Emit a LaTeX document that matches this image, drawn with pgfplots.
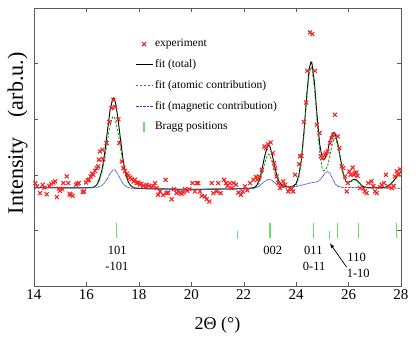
\documentclass[border=0pt]{standalone}
\usepackage{fontspec}
\setmainfont{Liberation Serif}
\usepackage{pgfplots}
\pgfplotsset{compat=1.18}
\definecolor{expred}{RGB}{245,35,35}
\definecolor{atomgreen}{RGB}{20,150,20}
\definecolor{magblue}{RGB}{60,60,225}
\definecolor{bragggreen}{RGB}{100,225,100}
\definecolor{framegray}{RGB}{90,90,90}

\begin{document}
\begin{tikzpicture}
\begin{axis}[
  scale only axis, width=367pt, height=278pt,
  xmin=14, xmax=28, ymin=0, ymax=5,
  xtick={14,16,...,28}, ytick={0,1,...,5}, yticklabels={},
  axis line style={framegray}, tick style={framegray},
  tick align=inside,
  /pgf/number format/assume math mode=true,
  ticklabel style={font=\fontsize{15}{18}\selectfont},
  xlabel={2Θ (°)},
  xlabel style={at={(axis description cs:0.5,-0.158)}, anchor=base, font=\fontsize{18}{22}\selectfont},
  ylabel={Intensity\hspace{0.9em}(arb.u.)},
  ylabel style={at={(axis description cs:-0.030,0.549)}, anchor=base, font=\fontsize{22}{26}\selectfont},
  clip=false,
  legend cell align=left,
  legend style={at={(0.275,0.8966)}, anchor=north west, draw=none, fill=none,
    inner sep=0pt, row sep=6.2pt,
    font=\fontsize{11.5}{13}\selectfont,
    nodes={inner sep=2pt, text height=8pt, text depth=2.5pt}},
]
% experiment
\addplot[only marks, mark=x, mark size=2.8pt, expred, line width=1.1pt] coordinates {
(14.05,1.85) (14.12,1.79) (14.23,1.67) (14.33,1.82) (14.40,1.77) (14.48,1.65)
(14.58,1.80) (14.66,1.83) (14.74,1.86) (14.81,1.88) (14.87,1.60) (14.95,1.75)
(14.99,1.71) (15.08,1.74) (15.12,1.85) (15.25,1.97) (15.31,1.85) (15.36,1.66)
(15.40,1.64) (15.48,1.62) (15.60,1.82) (15.66,1.84) (15.71,1.85) (15.86,1.69)
(15.91,1.70) (15.98,1.86) (16.05,1.90) (16.09,1.91) (16.16,1.97) (16.22,2.02)
(16.26,2.00) (16.33,2.07) (16.39,2.12) (16.45,2.15) (16.48,2.27) (16.52,2.42)
(16.61,2.45) (16.64,2.28) (16.77,2.57) (16.87,2.95) (16.96,3.20) (17.03,3.35)
(17.10,3.22) (17.22,3.00) (17.26,2.57) (17.35,2.24) (17.41,2.12) (17.47,2.07)
(17.55,2.02) (17.60,1.98) (17.67,1.95) (17.73,1.92) (17.80,1.88) (17.85,1.91)
(17.92,1.85) (17.98,1.86) (18.04,1.82) (18.10,1.84) (18.17,1.80) (18.25,1.78)
(18.30,1.82) (18.38,1.80) (18.49,1.78) (18.55,1.80) (18.62,1.85) (18.68,1.76)
(18.74,1.64) (18.81,1.70) (18.93,1.64) (19.02,1.91) (19.06,1.67) (19.12,1.68)
(19.25,1.56) (19.34,1.74) (19.44,1.67) (19.50,1.70) (19.57,1.68) (19.63,1.66)
(19.70,1.68) (19.76,1.74) (19.85,1.71) (19.93,1.74) (20.05,1.85) (20.14,1.70)
(20.21,1.85) (20.27,1.85) (20.33,1.70) (20.40,1.62) (20.52,1.61) (20.59,1.56)
(20.69,1.52) (20.78,1.85) (20.84,1.67) (20.97,1.70) (21.03,1.85) (21.12,1.67)
(21.25,1.91) (21.33,1.85) (21.38,1.80) (21.48,1.85) (21.54,1.76) (21.61,1.85)
(21.71,1.82) (21.80,1.68) (21.89,1.64) (21.96,1.70) (22.05,1.79) (22.14,1.72)
(22.24,1.85) (22.37,1.91) (22.47,1.96) (22.52,1.91) (22.60,1.97) (22.69,2.09)
(22.79,2.51) (22.85,2.48) (22.93,2.55) (23.03,2.58) (23.11,2.39) (23.16,2.21)
(23.20,2.12) (23.26,1.97) (23.32,1.85) (23.39,1.76) (23.45,1.80) (23.51,1.88)
(23.58,1.82) (23.70,1.70) (23.77,1.76) (23.83,1.74) (23.89,1.70) (23.96,2.00)
(24.12,2.19) (24.15,2.33) (24.21,2.34) (24.30,2.95) (24.38,3.30) (24.43,3.87)
(24.53,4.56) (24.62,4.53) (24.72,3.87) (24.79,2.90) (24.89,2.75) (24.94,2.33)
(25.01,2.30) (25.10,2.36) (25.14,2.39) (25.20,2.42) (25.29,2.57) (25.36,2.66)
(25.42,2.72) (25.48,3.08) (25.59,2.69) (25.65,2.48) (25.74,2.15) (25.80,2.12)
(25.87,1.97) (25.93,1.70) (25.97,1.85) (26.03,2.06) (26.08,2.00) (26.16,2.13)
(26.20,2.00) (26.25,2.03) (26.30,2.04) (26.34,1.98) (26.44,1.76) (26.56,1.76)
(26.62,1.70) (26.69,1.67) (26.75,1.85) (26.88,1.88) (26.95,1.80) (27.01,1.70)
(27.08,1.67) (27.20,1.78) (27.27,1.82) (27.35,1.85) (27.43,2.00) (27.52,1.79)
(27.65,1.76) (27.72,1.80) (27.77,1.97) (27.84,2.06) (27.90,2.00) (27.97,2.10)
};
\addlegendentry{experiment}
% total fit
\addplot[black, line width=0.9pt] coordinates {
(14,1.77) (15,1.765) (16,1.765) (16.2,1.77) (16.3,1.785) (16.4,1.82) (16.5,1.93)
(16.6,2.10) (16.7,2.40) (16.8,2.78) (16.9,3.15) (17.0,3.36) (17.03,3.38) (17.1,3.32)
(17.2,3.03) (17.3,2.64) (17.4,2.27) (17.5,2.01) (17.6,1.87) (17.7,1.80) (17.8,1.77)
(17.9,1.755) (18.5,1.75) (19.5,1.74) (20.5,1.74) (21.5,1.745) (22.2,1.755) (22.4,1.77)
(22.5,1.81) (22.6,1.91) (22.7,2.10) (22.8,2.33) (22.9,2.50) (22.95,2.53) (23.0,2.51)
(23.1,2.34) (23.2,2.11) (23.3,1.93) (23.4,1.84) (23.5,1.80) (23.6,1.785) (23.7,1.78)
(23.8,1.785) (23.9,1.80) (24.0,1.84) (24.1,1.98) (24.2,2.27) (24.3,2.77) (24.4,3.40)
(24.5,3.91) (24.57,4.03) (24.6,4.02) (24.7,3.66) (24.8,3.07) (24.9,2.55) (25.0,2.29)
(25.05,2.27) (25.1,2.29) (25.2,2.42) (25.3,2.63) (25.4,2.75) (25.45,2.76) (25.5,2.73)
(25.6,2.54) (25.7,2.27) (25.8,2.02) (25.9,1.88) (26.0,1.86) (26.1,1.89) (26.2,1.92)
(26.3,1.91) (26.4,1.86) (26.5,1.81) (26.6,1.78) (26.8,1.77) (27.0,1.77) (27.4,1.775)
(27.5,1.80) (27.6,1.83) (27.7,1.88) (27.8,1.94) (27.9,2.00) (28.0,2.06)
};
\addlegendentry{fit (total)}
% atomic contribution
\addplot[atomgreen, line width=0.8pt, dash pattern=on 2.5pt off 1.5pt] coordinates {
(14,1.77) (16,1.765) (16.2,1.77) (16.3,1.78) (16.4,1.81) (16.5,1.90) (16.6,2.05)
(16.7,2.30) (16.8,2.61) (16.9,2.89) (17.0,3.04) (17.03,3.05) (17.1,3.00) (17.2,2.78)
(17.3,2.48) (17.4,2.19) (17.5,1.98) (17.6,1.86) (17.7,1.80) (17.8,1.77) (17.9,1.76)
(18.5,1.75) (19.5,1.74) (20.5,1.74) (21.5,1.745) (22.2,1.75) (22.4,1.76) (22.5,1.79)
(22.6,1.86) (22.7,2.01) (22.8,2.20) (22.9,2.34) (22.95,2.37) (23.0,2.35) (23.1,2.21)
(23.2,2.02) (23.3,1.87) (23.4,1.80) (23.5,1.77) (23.6,1.76) (23.7,1.76) (23.8,1.763)
(23.9,1.773) (24.0,1.81) (24.1,1.94) (24.2,2.22) (24.3,2.71) (24.4,3.33) (24.5,3.82)
(24.57,3.94) (24.6,3.92) (24.7,3.56) (24.8,2.96) (24.9,2.41) (25.0,2.10) (25.05,2.07)
(25.1,2.08) (25.2,2.15) (25.3,2.37) (25.4,2.59) (25.48,2.66) (25.5,2.66) (25.6,2.51)
(25.7,2.25) (25.8,2.01) (25.9,1.87) (26.0,1.85) (26.1,1.88) (26.2,1.91) (26.3,1.90)
(26.4,1.85) (26.5,1.80) (26.6,1.77) (26.8,1.76) (27.0,1.76) (27.4,1.765) (27.5,1.79)
(27.6,1.82) (27.7,1.87) (27.8,1.93) (27.9,1.99) (28.0,2.05)
};
\addlegendentry{fit (atomic contribution)}
% magnetic contribution
\addplot[magblue, line width=0.8pt, dash pattern=on 0.8pt off 0.6pt] coordinates {
(14,1.77) (16.0,1.765) (16.3,1.765) (16.4,1.77) (16.5,1.79) (16.6,1.81) (16.7,1.86)
(16.8,1.93) (16.9,2.02) (17.0,2.08) (17.05,2.09) (17.1,2.08) (17.2,2.01) (17.3,1.92)
(17.4,1.84) (17.5,1.79) (17.6,1.77) (17.7,1.76) (17.9,1.75) (18.5,1.745) (19.5,1.74)
(20.5,1.74) (21.5,1.745) (22.2,1.755) (22.4,1.76) (22.5,1.77) (22.6,1.80) (22.7,1.84)
(22.8,1.88) (22.9,1.91) (23.0,1.92) (23.1,1.89) (23.2,1.85) (23.3,1.82) (23.4,1.80)
(23.5,1.79) (23.6,1.785) (23.8,1.78) (24.0,1.79) (24.2,1.81) (24.4,1.835) (24.6,1.86)
(24.8,1.87) (24.9,1.90) (25.0,1.96) (25.1,2.03) (25.2,2.06) (25.3,2.02) (25.4,1.92)
(25.5,1.83) (25.6,1.79) (25.7,1.78) (25.8,1.77) (26.5,1.77) (27,1.765) (28,1.755)
};
\addlegendentry{fit (magnetic contribution)}
% Bragg positions
\addplot[only marks, mark=|, mark size=7.8pt, bragggreen, line width=1.3pt,
  legend image code/.code={\draw[bragggreen, line width=1.3pt] (0.3cm,-5pt) -- (0.3cm,5pt);}]
  coordinates {(17.14,1) (23.01,1) (24.66,1) (25.59,1) (26.37,1) (27.83,1)};
\addlegendentry{Bragg positions}
\addplot[only marks, mark=|, mark size=3.9pt, bragggreen, line width=1.3pt, forget plot]
  coordinates {(21.77,0.92) (25.27,0.92)};

\node[font=\fontsize{12.5}{15}\selectfont] at (axis cs:17.18,0.647) {101};
\node[font=\fontsize{12.5}{15}\selectfont] at (axis cs:17.16,0.36) {-101};
\node[font=\fontsize{12.5}{15}\selectfont] at (axis cs:23.11,0.647) {002};
\node[font=\fontsize{12.5}{15}\selectfont] at (axis cs:24.66,0.647) {011};
\node[font=\fontsize{12.5}{15}\selectfont] at (axis cs:24.69,0.36) {0-11};
\node[font=\fontsize{12.5}{15}\selectfont] at (axis cs:26.31,0.517) {110};
\node[font=\fontsize{12.5}{15}\selectfont] at (axis cs:26.37,0.23) {1-10};
\draw[-latex, line width=0.7pt] (axis cs:25.93,0.336) -- (axis cs:25.29,0.768);

\path (axis cs:12.703,-0.989) rectangle (axis cs:28.575,5.144);
\end{axis}
\end{tikzpicture}
\end{document}
